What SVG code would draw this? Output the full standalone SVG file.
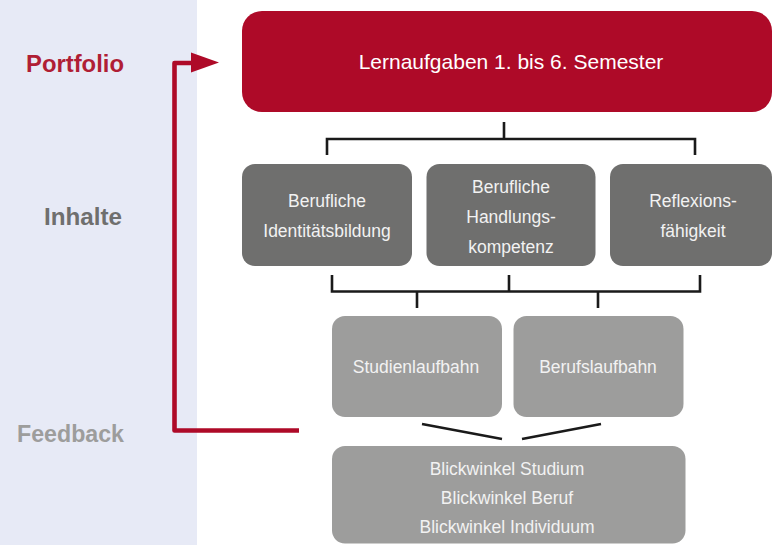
<svg xmlns="http://www.w3.org/2000/svg" width="773" height="545" viewBox="0 0 773 545">
  <style>
    .lbl { font-family: "Liberation Sans", Arial, sans-serif; font-weight: bold; font-size: 24px; }
    .txt { font-family: "Liberation Sans", Arial, sans-serif; font-size: 17.5px; fill: #f2f2f2; text-anchor: middle; }
    .dark { fill: #6f6f6e; }
    .light { fill: #9d9d9c; }
    .conn { fill: none; stroke: #1a1a1a; stroke-width: 2.6; }
  </style>
  <rect x="0" y="0" width="773" height="545" fill="#ffffff"/>
  <rect x="0" y="0" width="197" height="545" fill="#e7eaf6"/>

  <g id="labels">
    <text class="lbl" x="26" y="72" fill="#b01e35" textLength="98" lengthAdjust="spacingAndGlyphs">Portfolio</text>
    <text class="lbl" x="44" y="225" fill="#6f6f6e" textLength="78" lengthAdjust="spacingAndGlyphs">Inhalte</text>
    <text class="lbl" x="17" y="442" fill="#9d9d9c" textLength="107" lengthAdjust="spacingAndGlyphs">Feedback</text>
  </g>

  <g id="connectors">
    <path class="conn" d="M504,122 V139 M327,155 V139 H695 V155"/>
    <path class="conn" d="M332,275 V291.5 H700 V275 M509,275 V291.5 M417,291.5 V308 M598,291.5 V308"/>
    <path class="conn" d="M422,424 L502,439 M522,439 L601,424"/>
    <path d="M299,430.5 H174.5 V63 H196" fill="none" stroke="#ae0a28" stroke-width="4.6" stroke-linejoin="round"/>
    <polygon points="191,52.5 219,62.5 191,72.5" fill="#ae0a28"/>
  </g>

  <g id="lernaufgaben">
    <rect x="242" y="11" width="530" height="101" rx="20" fill="#ae0a28"/>
    <text x="511" y="69" font-family="'Liberation Sans', Arial, sans-serif" font-size="21" fill="#ffffff" text-anchor="middle">Lernaufgaben 1. bis 6. Semester</text>
  </g>

  <g id="identitaet">
    <rect class="dark" x="242" y="164" width="170" height="102" rx="13"/>
    <text class="txt" x="327" y="207">Berufliche</text>
    <text class="txt" x="327" y="237">Identitätsbildung</text>
  </g>
  <g id="handlung">
    <rect class="dark" x="426.5" y="164" width="169" height="102" rx="13"/>
    <text class="txt" x="511" y="193">Berufliche</text>
    <text class="txt" x="511" y="223">Handlungs-</text>
    <text class="txt" x="511" y="253">kompetenz</text>
  </g>
  <g id="reflexion">
    <rect class="dark" x="610" y="164" width="162" height="102" rx="13"/>
    <text class="txt" x="693" y="207">Reflexions-</text>
    <text class="txt" x="693" y="237">fähigkeit</text>
  </g>

  <g id="studienlaufbahn">
    <rect class="light" x="332" y="316" width="170" height="101" rx="13"/>
    <text class="txt" x="416" y="373">Studienlaufbahn</text>
  </g>
  <g id="berufslaufbahn">
    <rect class="light" x="513.5" y="316" width="170" height="101" rx="13"/>
    <text class="txt" x="598" y="373">Berufslaufbahn</text>
  </g>

  <g id="blickwinkel">
    <rect class="light" x="332" y="446" width="353.5" height="97.5" rx="13"/>
    <text class="txt" x="507" y="475">Blickwinkel Studium</text>
    <text class="txt" x="507" y="504">Blickwinkel Beruf</text>
    <text class="txt" x="507" y="533">Blickwinkel Individuum</text>
  </g>
</svg>
